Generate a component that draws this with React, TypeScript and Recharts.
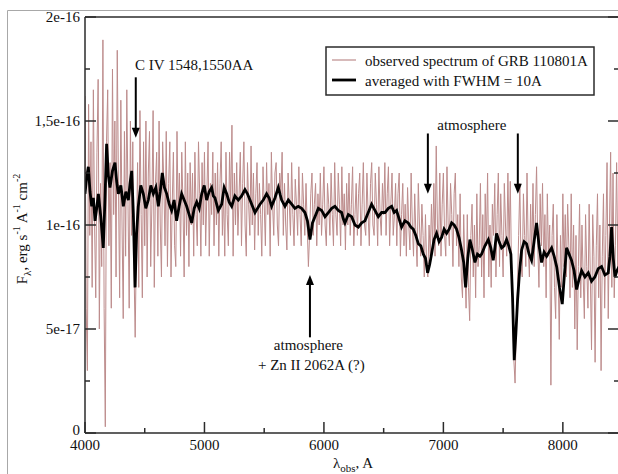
import React from 'react';
import { LineChart, Line, XAxis, YAxis, ReferenceLine, ReferenceDot } from 'recharts';

const FONT = '"Liberation Serif", "Times New Roman", serif';
const AXIS = '#2b2b2b';
const OBS_COLOR = '#bd8c8c';

// observed spectrum, flux in 1e-17 erg/s/A/cm2, one value every 10 A from 4000 A
const obsStart = 4000;
const obsStep = 10;
const obsFlux = [
  16.2, 6.0, 3.0, 15.8, 9.5, 14.0, 7.0, 16.5, 10.0, 6.5,
  13.5, 17.0, 5.0, 12.0, 8.0, 18.9, 6.0, 0.3, 14.0, 16.5,
  9.0, 13.0, 6.0, 17.5, 10.5, 15.0, 7.5, 18.4, 12.0, 6.5,
  16.0, 10.0, 5.5, 14.5, 8.5, 16.5, 11.0, 6.0, 15.0, 9.5,
  14.0, 8.0, 4.6, 9.0, 13.0, 7.0, 15.5, 10.5, 6.5, 14.0,
  9.0, 15.0, 7.5, 12.5, 14.5, 8.0, 11.0, 15.5, 7.0, 12.0,
  13.5, 8.5, 15.0, 10.0, 7.5, 14.0, 12.0, 9.0, 14.5, 8.0,
  12.0, 14.0, 7.5, 11.0, 13.5, 9.0, 8.0, 14.5, 10.5, 12.5,
  8.5, 13.5, 11.0, 7.5, 14.0, 9.5, 12.5, 8.0, 13.0, 10.0,
  12.5, 8.5, 13.5, 10.5, 9.0, 14.0, 11.5, 8.5, 13.0, 10.0,
  13.5, 9.0, 11.5, 14.0, 8.5, 12.0, 10.5, 13.5, 9.0, 12.5,
  10.0, 13.0, 8.5, 12.0, 14.0, 9.5, 11.5, 8.5, 13.5, 10.5,
  9.0, 13.5, 11.0, 14.8, 8.5, 12.5, 10.0, 13.0, 9.5, 11.5,
  13.5, 9.0, 12.0, 14.0, 10.0, 8.5, 13.0, 11.0, 9.5, 13.8,
  10.0, 12.5, 8.8, 11.5, 13.0, 9.5, 12.0, 10.5, 8.5, 12.8,
  11.0, 9.0, 13.0, 10.5, 12.0, 8.5, 13.5, 11.0, 9.5, 12.5,
  13.0, 10.0, 9.0, 12.5, 11.5, 13.5, 9.5, 12.0, 10.0, 8.8,
  12.5, 11.0, 9.5, 13.0, 10.5, 9.0, 12.2, 11.0, 9.5, 12.8,
  10.5, 9.0, 12.5, 11.0, 9.5, 12.0, 10.0, 8.0, 9.5, 11.5,
  12.5, 9.5, 11.0, 12.0, 9.0, 11.5, 10.0, 12.5, 9.5, 11.0,
  12.8, 10.0, 9.0, 12.0, 11.0, 9.5, 12.5, 10.5, 9.0, 13.0,
  10.5, 9.5, 12.5, 11.0, 9.0, 12.8, 10.0, 11.5, 8.8, 12.0,
  10.0, 12.5, 9.5, 11.0, 12.8, 9.0, 10.5, 12.0, 9.5, 11.5,
  12.5, 9.0, 11.0, 13.0, 10.0, 9.5, 12.5, 10.5, 9.0, 12.0,
  13.0, 10.0, 9.5, 12.5, 11.0, 9.0, 12.8, 10.5, 9.5, 12.0,
  10.5, 13.0, 9.5, 11.5, 12.8, 9.0, 11.0, 12.5, 9.5, 10.5,
  12.0, 9.0, 11.5, 12.5, 8.5, 10.5, 12.0, 9.0, 11.0, 8.5,
  11.8, 10.0, 8.8, 12.5, 10.0, 8.5, 11.5, 9.5, 8.0, 12.0,
  10.0, 8.5, 11.0, 9.5, 7.5, 10.5, 8.0, 7.5, 10.0, 8.5,
  11.0, 9.0, 12.0, 8.5, 13.8, 10.0, 9.0, 12.5, 8.5, 11.0,
  12.5, 9.5, 8.5, 12.8, 10.0, 9.0, 12.0, 10.5, 8.0, 11.5,
  12.5, 9.0, 10.5, 8.0, 11.5, 7.5, 6.5, 10.5, 8.0, 6.0,
  10.5, 7.0, 5.4, 9.5, 11.0, 7.5, 10.0, 6.5, 11.5, 8.0,
  9.0, 12.0, 7.5, 10.5, 6.5, 11.5, 9.0, 12.5, 7.5, 10.0,
  7.0, 11.0, 9.5, 12.0, 7.5, 10.5, 12.5, 8.0, 11.5, 9.5,
  7.5, 12.0, 10.0, 8.5, 12.5, 9.0, 12.1, 8.0, 6.0, 3.5,
  2.4, 5.0, 7.0, 9.5, 12.0, 8.0, 7.5, 11.5, 9.5, 8.0,
  12.5, 9.0, 7.5, 11.0, 8.5, 12.0, 8.0, 10.5, 12.8, 9.0,
  7.0, 11.5, 9.0, 12.0, 8.0, 10.5, 6.5, 11.5, 8.5, 10.0,
  2.3, 9.5, 11.0, 7.0, 5.5, 10.5, 8.0, 4.5, 9.5, 7.0,
  11.5, 8.0, 10.5, 7.5, 11.0, 9.0, 6.5, 11.5, 7.0, 10.0,
  5.0, 9.5, 4.0, 8.0, 11.0, 6.5, 10.0, 7.5, 5.5, 10.5,
  8.0, 6.0, 11.0, 7.5, 4.0, 10.5, 8.5, 3.4, 9.0, 11.5,
  6.5, 10.0, 3.0, 8.5, 11.5, 6.0, 9.5, 13.0, 5.5, 10.0,
  13.5, 7.0, 12.5, 6.5, 9.0, 13.0, 8.0, 10.5,
];

// smoothed spectrum (FWHM = 10A)
const avgLambda = [
  4000, 4014, 4028, 4042, 4056, 4070, 4084, 4098, 4112, 4132,
  4153, 4167, 4181, 4195, 4209, 4230, 4251, 4265, 4279, 4300,
  4321, 4342, 4363, 4377, 4391, 4405, 4419, 4432, 4446, 4467,
  4488, 4509, 4530, 4551, 4572, 4593, 4614, 4630, 4647, 4665,
  4684, 4705, 4725, 4746, 4767, 4788, 4809, 4830, 4851, 4872,
  4893, 4914, 4935, 4956, 4977, 4998, 5018, 5039, 5060, 5074,
  5088, 5116, 5144, 5165, 5186, 5207, 5228, 5255, 5283, 5311,
  5339, 5360, 5381, 5402, 5423, 5444, 5465, 5492, 5520, 5541,
  5562, 5590, 5618, 5646, 5674, 5702, 5730, 5757, 5785, 5813,
  5841, 5862, 5883, 5904, 5925, 5953, 5981, 6009, 6037, 6065,
  6092, 6120, 6148, 6162, 6176, 6204, 6232, 6260, 6288, 6316,
  6343, 6371, 6399, 6427, 6455, 6483, 6511, 6539, 6567, 6588,
  6608, 6629, 6650, 6678, 6706, 6727, 6748, 6769, 6790, 6811,
  6832, 6850, 6868, 6885, 6901, 6922, 6943, 6964, 6985, 7006,
  7027, 7048, 7069, 7090, 7110, 7131, 7152, 7170, 7186, 7204,
  7222, 7243, 7264, 7285, 7306, 7320, 7348, 7376, 7397, 7417,
  7431, 7445, 7466, 7487, 7508, 7529, 7547, 7565, 7579, 7593,
  7607, 7621, 7638, 7655, 7676, 7696, 7717, 7738, 7759, 7780,
  7801, 7822, 7843, 7864, 7885, 7906, 7927, 7948, 7972, 7995,
  8013, 8031, 8052, 8073, 8094, 8115, 8136, 8157, 8185, 8213,
  8240, 8268, 8296, 8324, 8352, 8380, 8394, 8408, 8422, 8436,
  8453, 8470,
];
const avgFlux = [
  11.5, 12.3, 12.8, 11.6, 10.9, 11.3, 10.2, 10.8, 11.5, 10.4,
  8.9, 11.2, 13.9, 12.4, 11.8, 12.6, 13.0, 12.1, 11.5, 11.9,
  10.9, 11.6, 11.2, 12.0, 12.6, 10.5, 7.0, 9.6, 10.9, 11.9,
  11.5, 10.8, 11.2, 11.9, 11.5, 11.8, 10.9, 11.6, 12.5, 11.8,
  11.5, 11.0, 10.7, 11.2, 10.2, 10.9, 11.5, 11.2, 10.9, 10.5,
  10.1, 10.8, 11.1, 10.8, 11.5, 11.9, 11.2, 11.6, 11.8, 11.4,
  11.3, 10.7, 11.0, 11.8, 11.5, 11.1, 10.9, 11.4, 11.2, 11.4,
  11.7, 11.5, 11.2, 10.9, 10.6, 10.8, 11.0, 11.2, 11.5, 11.3,
  10.9, 11.3, 11.8, 11.2, 10.9, 11.2, 11.0, 10.8, 10.9, 10.8,
  10.6, 10.2, 9.3, 10.1, 10.4, 10.8, 10.7, 10.4, 10.6, 10.8,
  10.9, 10.7, 10.6, 10.3, 10.1, 10.5, 10.4, 10.0, 9.9, 10.1,
  10.2, 10.6, 11.0, 10.7, 10.4, 10.6, 10.6, 10.8, 10.9, 10.6,
  10.7, 10.3, 9.9, 10.2, 10.1, 9.9, 9.8, 9.5, 9.1, 9.0,
  8.6, 8.4, 7.7, 8.1, 8.6, 9.3, 9.6, 9.2, 9.4, 9.8,
  9.6, 9.8, 10.1, 10.0, 9.8, 9.4, 8.8, 8.2, 7.0, 8.4,
  9.3, 8.8, 8.2, 8.6, 8.5, 8.6, 9.0, 9.3, 8.9, 8.3,
  8.9, 9.6, 9.2, 8.9, 9.0, 9.3, 9.0, 8.6, 6.5, 3.5,
  4.8, 6.4, 7.8, 8.8, 9.2, 9.1, 8.6, 8.3, 9.2, 10.1,
  9.0, 8.2, 8.7, 8.5, 8.7, 8.9, 8.5, 8.0, 7.0, 6.2,
  7.6, 8.9, 8.6, 8.3, 7.8, 6.9, 7.4, 7.8, 7.5, 7.7,
  7.3, 7.5, 7.9, 8.0, 7.6, 7.7, 8.5, 9.9, 8.4, 7.5,
  7.8, 8.0,
];

const xTicks = [4000, 4500, 5000, 5500, 6000, 6500, 7000, 7500, 8000];
const yTicks = [0, 2.5, 5, 7.5, 10, 12.5, 15, 17.5, 20];
const yLabelValues = [0, 5, 10, 15, 20];
const yLabelTexts = ['0', '5e-17', '1e-16', '1,5e-16', '2e-16'];

const obsData = obsFlux.map((flux, i) => ({ lambda: obsStart + i * obsStep, flux }));
const avgData = avgLambda.map((lambda, i) => ({ lambda, flux: avgFlux[i] }));

const isMajorX = (v: number) => v % 1000 === 0;
const isMajorY = (v: number) => v % 5 === 0;

const BottomTick = ({ x, y, payload }: any) => (
  <g>
    <line x1={x} y1={y} x2={x} y2={y - (isMajorX(payload.value) ? 11 : 5)} stroke={AXIS} strokeWidth={1.5} />
    {isMajorX(payload.value) && (
      <text x={x} y={y + 17} textAnchor="middle" fontSize={15} fontFamily={FONT} fill="#111">
        {payload.value}
      </text>
    )}
  </g>
);

const TopTick = ({ x, y, payload }: any) => (
  <line x1={x} y1={y} x2={x} y2={y + (isMajorX(payload.value) ? 11 : 5)} stroke={AXIS} strokeWidth={1.5} />
);

const LeftTick = ({ x, y, payload }: any) => {
  const idx = yLabelValues.indexOf(payload.value);
  return (
    <g>
      <line x1={x} y1={y} x2={x + (isMajorY(payload.value) ? 11 : 5)} y2={y} stroke={AXIS} strokeWidth={1.5} />
      {idx >= 0 && (
        <text x={x - 5} y={y + (payload.value === 0 ? 2 : 5)} textAnchor="end" fontSize={15} fontFamily={FONT} fill="#111">
          {yLabelTexts[idx]}
        </text>
      )}
    </g>
  );
};

const RightTick = ({ x, y, payload }: any) => (
  <line x1={x} y1={y} x2={x - (isMajorY(payload.value) ? 11 : 5)} y2={y} stroke={AXIS} strokeWidth={1.5} />
);

// arrow with the head at (x2, y2)
const Arrow = (p: any) => {
  const { x1, y1, x2, y2 } = p;
  const dir = y2 > y1 ? 1 : -1;
  return (
    <g>
      <line x1={x1} y1={y1} x2={x2} y2={y2 - dir * 6} stroke="#000" strokeWidth={2} />
      <polygon points={`${x2 - 4},${y2 - dir * 10} ${x2 + 4},${y2 - dir * 10} ${x2},${y2}`} fill="#000" />
    </g>
  );
};

const note = (text: string, anchor: 'start' | 'middle') => (p: any) => (
  <text x={p.cx} y={p.cy} textAnchor={anchor} fontSize={15} fontFamily={FONT} fill="#111">
    {text}
  </text>
);

export default function App() {
  return (
    <div style={{ position: 'absolute', left: 0, top: 0, width: 618, height: 474, overflow: 'hidden', background: '#fff' }}>
      <LineChart width={640} height={474} margin={{ top: 0, right: 0, bottom: 0, left: 0 }}>
        <XAxis
          dataKey="lambda"
          type="number"
          domain={[4000, 8470]}
          allowDataOverflow
          ticks={xTicks}
          interval={0}
          tickSize={0}
          tickMargin={0}
          height={41}
          axisLine={{ stroke: AXIS, strokeWidth: 1.5 }}
          tickLine={false}
          tick={BottomTick}
        />
        <XAxis
          xAxisId="top"
          orientation="top"
          type="number"
          domain={[4000, 8470]}
          allowDataOverflow
          ticks={xTicks}
          interval={0}
          tickSize={0}
          tickMargin={0}
          height={17}
          axisLine={{ stroke: AXIS, strokeWidth: 1.5 }}
          tickLine={false}
          tick={TopTick}
        />
        <YAxis
          type="number"
          domain={[0, 20]}
          allowDataOverflow
          ticks={yTicks}
          interval={0}
          tickSize={0}
          tickMargin={0}
          width={85}
          axisLine={{ stroke: AXIS, strokeWidth: 1.5 }}
          tickLine={false}
          tick={LeftTick}
        />
        <YAxis
          yAxisId="right"
          orientation="right"
          type="number"
          domain={[0, 20]}
          allowDataOverflow
          ticks={yTicks}
          interval={0}
          tickSize={0}
          tickMargin={0}
          width={21}
          axisLine={{ stroke: AXIS, strokeWidth: 1.5 }}
          tickLine={false}
          tick={RightTick}
        />
        <Line data={obsData} dataKey="flux" stroke={OBS_COLOR} strokeWidth={1} dot={false} isAnimationActive={false} />
        <Line data={avgData} dataKey="flux" stroke="#000" strokeWidth={2.8} dot={false} isAnimationActive={false} />

        <ReferenceDot x={4418} y={17.45} r={0} shape={note('C IV 1548,1550AA', 'start')} />
        <ReferenceLine segment={[{ x: 4425, y: 17.1 }, { x: 4425, y: 14.2 }]} shape={Arrow} />

        <ReferenceDot x={7238} y={14.57} r={0} shape={note('atmosphere', 'middle')} />
        <ReferenceLine segment={[{ x: 6870, y: 14.4 }, { x: 6870, y: 11.5 }]} shape={Arrow} />
        <ReferenceLine segment={[{ x: 7623, y: 14.4 }, { x: 7623, y: 11.5 }]} shape={Arrow} />

        <ReferenceLine segment={[{ x: 5883, y: 4.6 }, { x: 5883, y: 7.6 }]} shape={Arrow} />
        <ReferenceDot x={5870} y={4.0} r={0} shape={note('atmosphere', 'middle')} />
        <ReferenceDot x={5895} y={3.03} r={0} shape={note('+ Zn II 2062A (?)', 'middle')} />
      </LineChart>

      <svg width={618} height={474} style={{ position: 'absolute', left: 0, top: 0, pointerEvents: 'none' }}>
        <path d="M7.5,474 L7.5,10.5 L618,10.5" fill="none" stroke="#a8a8a8" strokeWidth={1} />

        <g fontFamily={FONT} fill="#111">
          <rect x={326} y={47} width={268} height={48} fill="#fff" stroke={AXIS} strokeWidth={1.5} />
          <line x1={332} y1={60} x2={356} y2={60} stroke={OBS_COLOR} strokeWidth={1.2} />
          <text x={365} y={66} fontSize={15}>observed spectrum of GRB 110801A</text>
          <line x1={332} y1={80} x2={356} y2={80} stroke="#000" strokeWidth={2.8} />
          <text x={365} y={86} fontSize={15}>averaged with FWHM = 10A</text>

          <text transform="translate(27,229) rotate(-90)" textAnchor="middle" fontSize={15}>
            F<tspan dy={4} fontSize={11}>λ</tspan>
            <tspan dy={-4}>, erg s</tspan>
            <tspan dy={-7} fontSize={10}>-1</tspan>
            <tspan dy={7}> A</tspan>
            <tspan dy={-7} fontSize={10}>-1</tspan>
            <tspan dy={7}> cm</tspan>
            <tspan dy={-7} fontSize={10}>-2</tspan>
          </text>

          <text x={353} y={468} textAnchor="middle" fontSize={15}>
            λ<tspan dy={4} fontSize={11}>obs</tspan>
            <tspan dy={-4}>, A</tspan>
          </text>
        </g>
      </svg>
    </div>
  );
}
